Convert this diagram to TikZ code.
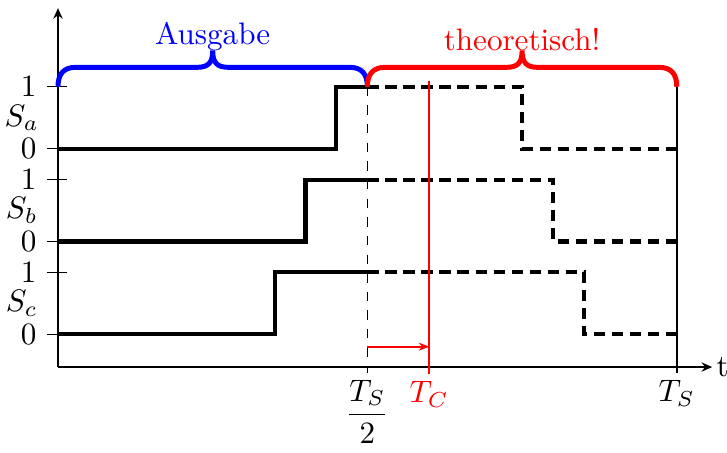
\documentclass[tikz,border=0pt]{standalone}
\usepackage{amsmath}
\usetikzlibrary{arrows.meta}

\begin{document}
\begin{tikzpicture}[
  ax/.style={line width=0.9pt, -{Stealth[length=3.4pt, width=3pt]}},
  sig/.style={line width=1.3pt},
  sigd/.style={line width=1.3pt, dash pattern=on 3.6pt off 2.2pt},
  tk/.style={line width=0.4pt},
  br/.style={line width=1.6pt}
]
\useasboundingbox (-0.656,-0.962) rectangle (7.568,4.152);

% axes
\coordinate (o) at (0,0);
\draw[ax] (o) -- (7.4,0) node[right, inner sep=1pt] (t) {t};
\draw[ax] (o) -- (0,4.06);

% levels: Sa, Sb, Sc
\foreach \y/\v in {3.17/1, 2.47/0, 2.12/1, 1.42/0, 1.07/1, 0.37/0}
  \draw[tk] (-0.12,\y) -- (0.1,\y) node[pos=0, left] {$\v$};
\node at (-0.41,2.82) (sa) {$S_a$};
\node at (-0.41,1.77) (sb) {$S_b$};
\node at (-0.41,0.72) (sc) {$S_c$};

% signals (solid: output, dashed: theory)
\draw[sig] (0,2.47) -- (3.15,2.47) -- (3.15,3.17) -- (3.5,3.17);
\draw[sigd] (3.5,3.17) -- (5.25,3.17) -- (5.25,2.47) -- (7,2.47);
\draw[sig] (0,1.42) -- (2.8,1.42) -- (2.8,2.12) -- (3.5,2.12);
\draw[sigd] (3.5,2.12) -- (5.6,2.12) -- (5.6,1.42) -- (7,1.42);
\draw[sig] (0,0.37) -- (2.45,0.37) -- (2.45,1.07) -- (3.5,1.07);
\draw[sigd] (3.5,1.07) -- (5.95,1.07) -- (5.95,0.37) -- (7,0.37);

% time marks
\draw[tk, dashed] (3.5,3.17) -- (3.5,-0.07) node[below, inner sep=2pt] (th) {$\dfrac{T_S}{2}$};
\draw[red, line width=0.6pt] (4.2,3.24) -- (4.2,-0.08) node[below, inner sep=2pt] (tc) {$T_C$};
\draw[tk, line width=0.5pt] (7,3.17) -- (7,-0.07) node[below, inner sep=2pt] (ts) {$T_S$};
\draw[red, line width=0.6pt, -{Stealth[length=3.4pt, width=2.6pt]}] (3.5,0.23) -- (4.2,0.23);

% braces
\foreach \xa/\xb/\col/\txt in {0/3.5/blue/Ausgabe, 3.5/7/red/theoretisch!} {
  \pgfmathsetmacro\xm{(\xa+\xb)/2}
  \draw[br, \col] (\xa,3.17) .. controls (\xa,3.31) and (\xa+0.06,3.39) .. (\xa+0.2,3.39)
    -- (\xm-0.18,3.39) .. controls (\xm-0.05,3.39) and (\xm,3.44) .. (\xm,3.58)
    .. controls (\xm,3.44) and (\xm+0.05,3.39) .. (\xm+0.18,3.39)
    -- (\xb-0.2,3.39) .. controls (\xb-0.06,3.39) and (\xb,3.31) .. (\xb,3.17);
  \node[\col, above] at (\xm,3.45) {\txt};
}
\end{tikzpicture}
\end{document}
